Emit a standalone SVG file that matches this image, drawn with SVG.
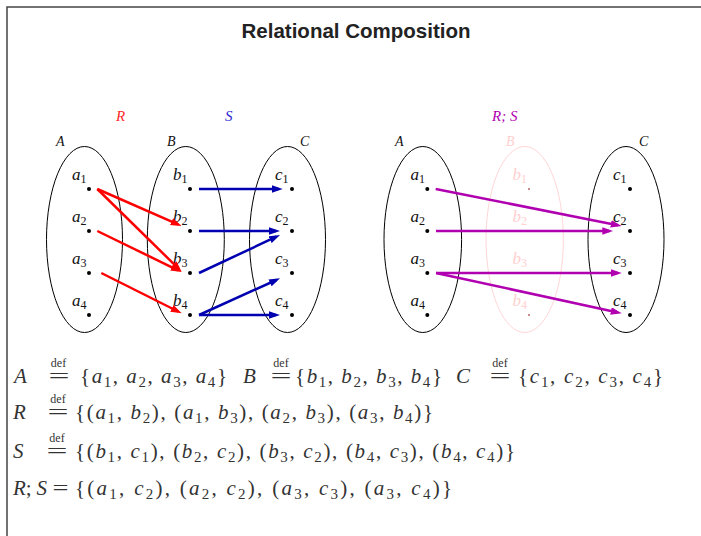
<svg xmlns="http://www.w3.org/2000/svg" width="701" height="536" viewBox="0 0 701 536">
<style>
.title{font-family:"Liberation Sans",Arial,sans-serif;font-weight:bold;font-size:20.5px;fill:#222;text-anchor:middle}
.set{fill:none;stroke:#000;stroke-width:1}
.faint{fill:none;stroke:#ffd6d6;stroke-width:1}
.dot{fill:#000}
.fdot{fill:#c07070}
.lb{font-family:"Liberation Serif","Times New Roman",serif;font-size:17px;font-style:italic;fill:#111}
.lbf{font-family:"Liberation Serif","Times New Roman",serif;font-size:17px;font-style:italic;fill:#ffd0d0}
.sl{font-family:"Liberation Serif","Times New Roman",serif;font-size:14px;font-style:italic;fill:#111}
.sb{font-size:12px;font-style:normal}
.rel{font-family:"Liberation Serif","Times New Roman",serif;font-size:15px;font-style:italic}
.m{font-family:"Liberation Serif","Times New Roman",serif;font-size:21px;fill:#333}
.i{font-style:italic}
.ms{font-size:15px}
.def{font-family:"Liberation Serif","Times New Roman",serif;font-size:12px;fill:#333;text-anchor:middle}
.eq{font-family:"Liberation Serif","Times New Roman",serif;font-size:21px;fill:#333;text-anchor:middle}
.r{stroke:#f00;stroke-width:2.5;fill:none;marker-end:url(#ar)}
.b{stroke:#0000b0;stroke-width:2.5;fill:none;marker-end:url(#ab)}
.p{stroke:#b000b0;stroke-width:2.5;fill:none;marker-end:url(#ap)}
</style>
<defs>
<marker id="ar" markerUnits="userSpaceOnUse" markerWidth="11" markerHeight="8" refX="7" refY="3.75" orient="auto"><path d="M0,0 L11,3.75 L0,7.5 z" fill="#f00"/></marker>
<marker id="ab" markerUnits="userSpaceOnUse" markerWidth="11" markerHeight="8" refX="7" refY="3.75" orient="auto"><path d="M0,0 L11,3.75 L0,7.5 z" fill="#0000b0"/></marker>
<marker id="ap" markerUnits="userSpaceOnUse" markerWidth="11" markerHeight="8" refX="7" refY="3.75" orient="auto"><path d="M0,0 L11,3.75 L0,7.5 z" fill="#b000b0"/></marker>
</defs>
<rect x="0" y="0" width="701" height="536" fill="#fff"/>
<path d="M7,536 L7,7 L701,7" fill="none" stroke="#444" stroke-width="1.5"/>
<g id="title"><text class="title" x="356" y="38">Relational Composition</text></g>

<g id="rel-labels">
<text class="rel" x="116" y="121" fill="#ff2a2a">R</text>
<text class="rel" x="225" y="121" fill="#2a2ad0">S</text>
<text class="rel" x="492" y="121" fill="#b000b0">R; S</text>
</g>

<g id="left-A">
<ellipse class="set" cx="84.5" cy="239.5" rx="38" ry="93"/>
<text class="sl" x="56" y="146">A</text>
<circle class="dot" cx="89" cy="189" r="2"/><circle class="dot" cx="89" cy="231" r="2"/><circle class="dot" cx="89" cy="273" r="2"/><circle class="dot" cx="89" cy="315" r="2"/>
<text class="lb" x="72" y="180">a<tspan class="sb" dy="3">1</tspan></text>
<text class="lb" x="72" y="222">a<tspan class="sb" dy="3">2</tspan></text>
<text class="lb" x="72" y="264">a<tspan class="sb" dy="3">3</tspan></text>
<text class="lb" x="72" y="306">a<tspan class="sb" dy="3">4</tspan></text>
</g>
<g id="left-B">
<ellipse class="set" cx="185.8" cy="239.5" rx="38.5" ry="93"/>
<text class="sl" x="167" y="146">B</text>
<circle class="dot" cx="190" cy="189" r="2"/><circle class="dot" cx="190" cy="231" r="2"/><circle class="dot" cx="190" cy="273" r="2"/><circle class="dot" cx="190" cy="315" r="2"/>
<text class="lb" x="173" y="180">b<tspan class="sb" dy="3">1</tspan></text>
<text class="lb" x="173" y="222">b<tspan class="sb" dy="3">2</tspan></text>
<text class="lb" x="173" y="264">b<tspan class="sb" dy="3">3</tspan></text>
<text class="lb" x="173" y="306">b<tspan class="sb" dy="3">4</tspan></text>
</g>
<g id="left-C">
<ellipse class="set" cx="287.5" cy="239.5" rx="38" ry="93"/>
<text class="sl" x="300" y="146">C</text>
<circle class="dot" cx="292" cy="189" r="2"/><circle class="dot" cx="292" cy="231" r="2"/><circle class="dot" cx="292" cy="273" r="2"/><circle class="dot" cx="292" cy="315" r="2"/>
<text class="lb" x="275" y="180">c<tspan class="sb" dy="3">1</tspan></text>
<text class="lb" x="275" y="222">c<tspan class="sb" dy="3">2</tspan></text>
<text class="lb" x="275" y="264">c<tspan class="sb" dy="3">3</tspan></text>
<text class="lb" x="275" y="306">c<tspan class="sb" dy="3">4</tspan></text>
</g>

<g id="right-A">
<ellipse class="set" cx="422.8" cy="239.5" rx="38.8" ry="93"/>
<text class="sl" x="395" y="146">A</text>
<circle class="dot" cx="427.3" cy="189" r="2"/><circle class="dot" cx="427.3" cy="231" r="2"/><circle class="dot" cx="427.3" cy="273" r="2"/><circle class="dot" cx="427.3" cy="315" r="2"/>
<text class="lb" x="410.5" y="180">a<tspan class="sb" dy="3">1</tspan></text>
<text class="lb" x="410.5" y="222">a<tspan class="sb" dy="3">2</tspan></text>
<text class="lb" x="410.5" y="264">a<tspan class="sb" dy="3">3</tspan></text>
<text class="lb" x="410.5" y="306">a<tspan class="sb" dy="3">4</tspan></text>
</g>
<g id="right-B">
<ellipse class="faint" cx="524.7" cy="239.5" rx="38.7" ry="93"/>
<text class="sl" x="506" y="146" style="fill:#ffd0d0">B</text>
<circle class="fdot" cx="529" cy="189" r="1.1"/><circle class="fdot" cx="529" cy="231" r="1.1"/><circle class="fdot" cx="529" cy="273" r="1.1"/><circle class="fdot" cx="529" cy="315" r="1.1"/>
<text class="lbf" x="512.5" y="180">b<tspan class="sb" dy="3">1</tspan></text>
<text class="lbf" x="512.5" y="222">b<tspan class="sb" dy="3">2</tspan></text>
<text class="lbf" x="512.5" y="264">b<tspan class="sb" dy="3">3</tspan></text>
<text class="lbf" x="512.5" y="306">b<tspan class="sb" dy="3">4</tspan></text>
</g>
<g id="right-C">
<ellipse class="set" cx="626" cy="239.5" rx="38" ry="93"/>
<text class="sl" x="639" y="146">C</text>
<circle class="dot" cx="630" cy="189" r="2"/><circle class="dot" cx="630" cy="231" r="2"/><circle class="dot" cx="630" cy="273" r="2"/><circle class="dot" cx="630" cy="315" r="2"/>
<text class="lb" x="613" y="180">c<tspan class="sb" dy="3">1</tspan></text>
<text class="lb" x="613" y="222">c<tspan class="sb" dy="3">2</tspan></text>
<text class="lb" x="613" y="264">c<tspan class="sb" dy="3">3</tspan></text>
<text class="lb" x="613" y="306">c<tspan class="sb" dy="3">4</tspan></text>
</g>

<g id="connectors">
<line class="r" x1="97.3" y1="189" x2="178" y2="224.4"/>
<line class="r" x1="97.3" y1="189" x2="178.8" y2="268.9"/>
<line class="r" x1="97.3" y1="231" x2="178.1" y2="270.3"/>
<line class="r" x1="101.3" y1="273" x2="178.1" y2="311.5"/>
<line class="b" x1="199" y1="189" x2="278.7" y2="189"/>
<line class="b" x1="199" y1="231" x2="276" y2="231"/>
<line class="b" x1="199" y1="273" x2="276.4" y2="236.7"/>
<line class="b" x1="199" y1="315" x2="276.4" y2="280"/>
<line class="b" x1="199" y1="315" x2="276" y2="315"/>
<line class="p" x1="435.7" y1="189" x2="617.8" y2="225.2"/>
<line class="p" x1="436" y1="231" x2="609.3" y2="231"/>
<line class="p" x1="436" y1="273" x2="617.7" y2="273"/>
<line class="p" x1="436" y1="273" x2="617.8" y2="312.5"/>
</g>

<g id="definitions">
<text class="m i" x="14" y="383">A</text>
<text class="def" x="58.5" y="367">def</text><text class="eq" x="59" y="383" textLength="21" lengthAdjust="spacingAndGlyphs">=</text>
<text class="m" x="80" y="383" textLength="147" lengthAdjust="spacing">{<tspan class="i">a</tspan><tspan class="ms" dy="4">1</tspan><tspan dy="-4">, </tspan><tspan class="i">a</tspan><tspan class="ms" dy="4">2</tspan><tspan dy="-4">, </tspan><tspan class="i">a</tspan><tspan class="ms" dy="4">3</tspan><tspan dy="-4">, </tspan><tspan class="i">a</tspan><tspan class="ms" dy="4">4</tspan><tspan dy="-4">}</tspan></text>
<text class="m i" x="243" y="383">B</text>
<text class="def" x="281" y="367">def</text><text class="eq" x="281" y="383" textLength="21" lengthAdjust="spacingAndGlyphs">=</text>
<text class="m" x="295" y="383" textLength="147" lengthAdjust="spacing">{<tspan class="i">b</tspan><tspan class="ms" dy="4">1</tspan><tspan dy="-4">, </tspan><tspan class="i">b</tspan><tspan class="ms" dy="4">2</tspan><tspan dy="-4">, </tspan><tspan class="i">b</tspan><tspan class="ms" dy="4">3</tspan><tspan dy="-4">, </tspan><tspan class="i">b</tspan><tspan class="ms" dy="4">4</tspan><tspan dy="-4">}</tspan></text>
<text class="m i" x="456" y="383">C</text>
<text class="def" x="500" y="367">def</text><text class="eq" x="500" y="383" textLength="21" lengthAdjust="spacingAndGlyphs">=</text>
<text class="m" x="518" y="383" textLength="145" lengthAdjust="spacing">{<tspan class="i">c</tspan><tspan class="ms" dy="4">1</tspan><tspan dy="-4">, </tspan><tspan class="i">c</tspan><tspan class="ms" dy="4">2</tspan><tspan dy="-4">, </tspan><tspan class="i">c</tspan><tspan class="ms" dy="4">3</tspan><tspan dy="-4">, </tspan><tspan class="i">c</tspan><tspan class="ms" dy="4">4</tspan><tspan dy="-4">}</tspan></text>

<text class="m i" x="13" y="419">R</text>
<text class="def" x="58" y="403">def</text><text class="eq" x="58" y="419" textLength="21" lengthAdjust="spacingAndGlyphs">=</text>
<text class="m" x="75" y="419" textLength="358" lengthAdjust="spacing">{(<tspan class="i">a</tspan><tspan class="ms" dy="4">1</tspan><tspan dy="-4">, </tspan><tspan class="i">b</tspan><tspan class="ms" dy="4">2</tspan><tspan dy="-4">), (</tspan><tspan class="i">a</tspan><tspan class="ms" dy="4">1</tspan><tspan dy="-4">, </tspan><tspan class="i">b</tspan><tspan class="ms" dy="4">3</tspan><tspan dy="-4">), (</tspan><tspan class="i">a</tspan><tspan class="ms" dy="4">2</tspan><tspan dy="-4">, </tspan><tspan class="i">b</tspan><tspan class="ms" dy="4">3</tspan><tspan dy="-4">), (</tspan><tspan class="i">a</tspan><tspan class="ms" dy="4">3</tspan><tspan dy="-4">, </tspan><tspan class="i">b</tspan><tspan class="ms" dy="4">4</tspan><tspan dy="-4">)}</tspan></text>

<text class="m i" x="13" y="458">S</text>
<text class="def" x="57" y="442">def</text><text class="eq" x="57" y="458" textLength="21" lengthAdjust="spacingAndGlyphs">=</text>
<text class="m" x="75" y="458" textLength="440" lengthAdjust="spacing">{(<tspan class="i">b</tspan><tspan class="ms" dy="4">1</tspan><tspan dy="-4">, </tspan><tspan class="i">c</tspan><tspan class="ms" dy="4">1</tspan><tspan dy="-4">), (</tspan><tspan class="i">b</tspan><tspan class="ms" dy="4">2</tspan><tspan dy="-4">, </tspan><tspan class="i">c</tspan><tspan class="ms" dy="4">2</tspan><tspan dy="-4">), (</tspan><tspan class="i">b</tspan><tspan class="ms" dy="4">3</tspan><tspan dy="-4">, </tspan><tspan class="i">c</tspan><tspan class="ms" dy="4">2</tspan><tspan dy="-4">), (</tspan><tspan class="i">b</tspan><tspan class="ms" dy="4">4</tspan><tspan dy="-4">, </tspan><tspan class="i">c</tspan><tspan class="ms" dy="4">3</tspan><tspan dy="-4">), (</tspan><tspan class="i">b</tspan><tspan class="ms" dy="4">4</tspan><tspan dy="-4">, </tspan><tspan class="i">c</tspan><tspan class="ms" dy="4">4</tspan><tspan dy="-4">)}</tspan></text>

<text class="m" x="13" y="495" textLength="34" lengthAdjust="spacing"><tspan class="i">R</tspan>; <tspan class="i">S</tspan></text>
<text class="eq" x="60.5" y="495" textLength="16" lengthAdjust="spacingAndGlyphs">=</text>
<text class="m" x="75" y="495" textLength="377" lengthAdjust="spacing">{(<tspan class="i">a</tspan><tspan class="ms" dy="4">1</tspan><tspan dy="-4">, </tspan><tspan class="i">c</tspan><tspan class="ms" dy="4">2</tspan><tspan dy="-4">), (</tspan><tspan class="i">a</tspan><tspan class="ms" dy="4">2</tspan><tspan dy="-4">, </tspan><tspan class="i">c</tspan><tspan class="ms" dy="4">2</tspan><tspan dy="-4">), (</tspan><tspan class="i">a</tspan><tspan class="ms" dy="4">3</tspan><tspan dy="-4">, </tspan><tspan class="i">c</tspan><tspan class="ms" dy="4">3</tspan><tspan dy="-4">), (</tspan><tspan class="i">a</tspan><tspan class="ms" dy="4">3</tspan><tspan dy="-4">, </tspan><tspan class="i">c</tspan><tspan class="ms" dy="4">4</tspan><tspan dy="-4">)}</tspan></text>
</g>
</svg>
